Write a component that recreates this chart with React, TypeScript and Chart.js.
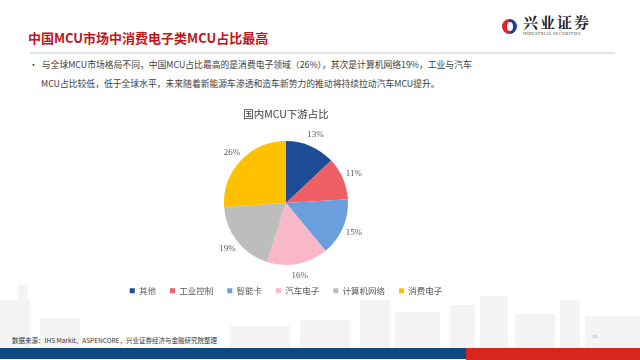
import React, { useEffect, useRef } from "react";
import { Chart, registerables } from "chart.js";

Chart.register(...registerables);

const categories = ["其他", "工业控制", "智能卡", "汽车电子", "计算机网络", "消费电子"];
const shares = [13, 11, 15, 16, 19, 26];
const colors = ["#1B4C95", "#EE5F66", "#6A9FDD", "#F8B8C8", "#BDBDBD", "#FFC000"];
const chartTitle = "国内MCU下游占比";
const slideTitle = "中国MCU市场中消费电子类MCU占比最高";
const bulletLine1 = "与全球MCU市场格局不同，中国MCU占比最高的是消费电子领域（26%），其次是计算机网络19%，工业与汽车";
const bulletLine2 = "MCU占比较低，低于全球水平，未来随着新能源车渗透和造车新势力的推动将持续拉动汽车MCU提升。";
const sourceText = "数据来源：IHS Markit、ASPENCORE，兴业证券经济与金融研究院整理";

const CJK = '"Noto Sans CJK SC", "Noto Sans", sans-serif';

const outLabels = {
  id: "outLabels",
  afterDatasetsDraw(chart: any) {
    const ctx = chart.ctx;
    const meta = chart.getDatasetMeta(0);
    ctx.save();
    ctx.font = '9px "Liberation Serif", serif';
    ctx.fillStyle = "#595959";
    ctx.textAlign = "center";
    ctx.textBaseline = "middle";
    meta.data.forEach((arc: any, i: number) => {
      const p = arc.getProps(["x", "y", "startAngle", "endAngle", "outerRadius"], true);
      const mid = (p.startAngle + p.endAngle) / 2;
      const r = p.outerRadius + 12;
      ctx.fillText(shares[i] + "%", p.x + Math.cos(mid) * r, p.y + Math.sin(mid) * r);
    });
    ctx.restore();
  },
};

function PieChart() {
  const ref = useRef<HTMLCanvasElement>(null);
  useEffect(() => {
    if (!ref.current) return;
    const chart = new Chart(ref.current, {
      type: "pie",
      data: {
        labels: categories,
        datasets: [{ data: shares, backgroundColor: colors, borderWidth: 0 }],
      },
      options: {
        animation: false,
        responsive: false,
        radius: 62,
        layout: { padding: { bottom: 3 } },
        plugins: {
          title: {
            display: true,
            text: chartTitle,
            color: "#404040",
            font: { family: CJK, size: 10.5, weight: "normal" },
            padding: { top: 8, bottom: 13 },
          },
          legend: {
            position: "bottom",
            labels: {
              boxWidth: 5,
              boxHeight: 5,
              padding: 14,
              color: "#595959",
              font: { family: CJK, size: 8.5 },
            },
          },
          tooltip: { enabled: false },
        },
      },
      plugins: [outLabels],
    } as any);
    return () => chart.destroy();
  }, []);
  return (
    <canvas
      ref={ref}
      width={380}
      height={208}
      style={{ position: "absolute", left: 96, top: 100, width: 380, height: 208 }}
    />
  );
}

const buildings = [
  [0, 300, 30, 48], [18, 285, 10, 63], [40, 318, 40, 30], [300, 320, 50, 28], [360, 300, 30, 48],
  [395, 312, 45, 36], [450, 305, 25, 43], [480, 296, 28, 52], [515, 314, 40, 34], [560, 300, 20, 48],
  [585, 316, 55, 32], [230, 326, 60, 22],
];

export default function App() {
  return (
    <div
      style={{
        position: "fixed",
        left: 0,
        top: 0,
        width: 640,
        height: 360,
        background: "#ffffff",
        overflow: "hidden",
        fontFamily: CJK,
      }}
    >
      {buildings.map((b, i) => (
        <div
          key={i}
          style={{ position: "absolute", left: b[0], top: b[1], width: b[2], height: b[3], background: "#f4f4f4" }}
        />
      ))}
      <div
        style={{
          position: "absolute",
          left: 28,
          top: 28,
          fontSize: 13,
          fontWeight: 700,
          color: "#C0141B",
          whiteSpace: "nowrap",
          lineHeight: "20px",
        }}
      >
        {slideTitle}
      </div>
      <div
        style={{
          position: "absolute",
          left: 502,
          top: 19,
          width: 15,
          height: 15,
          borderRadius: "50%",
          background: "conic-gradient(#1B3F8F 0deg 180deg, #D7262B 180deg 360deg)",
        }}
      />
      <div
        style={{
          position: "absolute",
          left: 507,
          top: 22,
          width: 6,
          height: 9,
          borderRadius: "50%",
          background: "#ffffff",
        }}
      />
      <div
        style={{
          position: "absolute",
          left: 523,
          top: 13,
          fontSize: 15,
          fontWeight: 700,
          fontFamily: '"Noto Serif CJK SC", "Noto Sans CJK SC", serif',
          color: "#222",
          letterSpacing: 2,
          whiteSpace: "nowrap",
          lineHeight: "18px",
        }}
      >
        兴业证券
      </div>
      <div
        style={{
          position: "absolute",
          left: 523,
          top: 31,
          fontSize: 4,
          color: "#333",
          fontFamily: '"Liberation Serif", serif',
          whiteSpace: "nowrap",
          letterSpacing: 0.5,
        }}
      >
        INDUSTRIAL SECURITIES
      </div>
      <div style={{ position: "absolute", left: 30, top: 52, width: 585, height: 2, background: "#e4e4e4" }} />
      <div
        style={{
          position: "absolute",
          left: 29,
          top: 56,
          fontSize: 8.8,
          color: "#404040",
          lineHeight: "18.5px",
          whiteSpace: "nowrap",
        }}
      >
        <div>
          <span style={{ marginRight: 4 }}>•</span>
          {bulletLine1}
        </div>
        <div style={{ paddingLeft: 12 }}>{bulletLine2}</div>
      </div>
      <PieChart />
      <div
        style={{
          position: "absolute",
          left: 12,
          top: 335,
          fontSize: 6.5,
          color: "#333",
          whiteSpace: "nowrap",
          lineHeight: "10px",
        }}
      >
        {sourceText}
      </div>
      <div
        style={{
          position: "absolute",
          left: 592,
          top: 334,
          fontSize: 5,
          color: "#888",
          fontFamily: '"Liberation Serif", serif',
        }}
      >
        13
      </div>
      <div style={{ position: "absolute", left: 0, top: 348, width: 466, height: 11, background: "#0E4A7E" }} />
      <div style={{ position: "absolute", left: 466, top: 348, width: 174, height: 12, background: "#D9261C" }} />
    </div>
  );
}
